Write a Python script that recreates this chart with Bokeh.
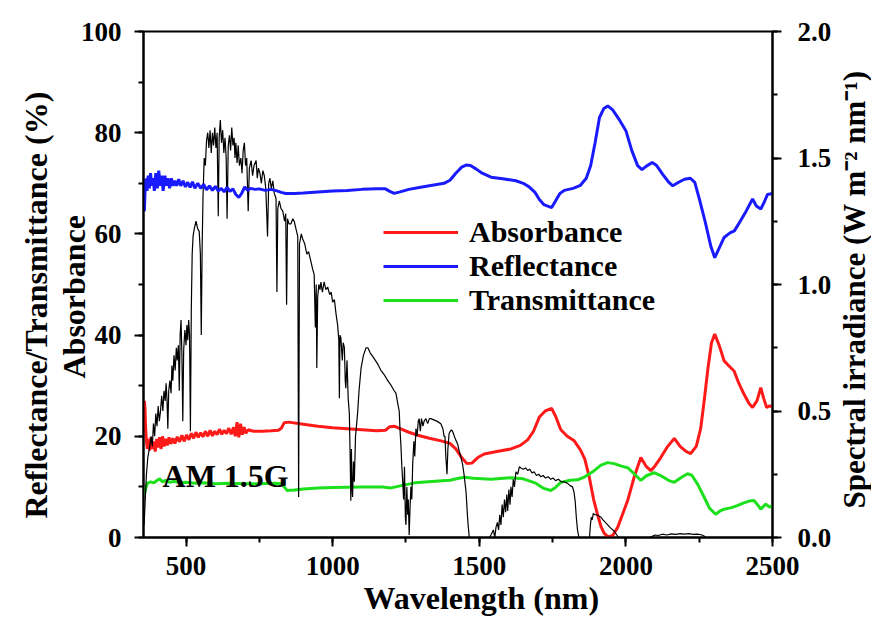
import math
from bokeh.plotting import figure
from bokeh.layouts import row
from bokeh.models import (Range1d, LinearAxis, SingleIntervalTicker, Legend, LegendItem,
                          Label, Title, NumeralTickFormatter)
from bokeh.embed import file_html
from bokeh.resources import INLINE

FONT = "Liberation Serif"

# ---------------- data ----------------
refl_wl = [357, 358, 360, 363, 367, 371, 375, 379, 383, 388, 392, 397, 402, 407, 412, 417, 422,
           428, 433, 438, 444, 450, 456, 462, 468, 475, 482, 490, 498, 506, 514, 522, 530, 540,
           550, 560, 570, 580, 590, 600, 610, 620, 630, 640, 650, 660, 670, 680, 690, 700, 710,
           720, 735, 750, 770, 790, 810, 825, 840, 870, 900, 950, 1000, 1050, 1100, 1150, 1180,
           1195, 1210, 1230, 1260, 1300, 1340, 1380, 1400, 1420, 1440, 1455, 1470, 1490, 1510,
           1540, 1580, 1625, 1650, 1670, 1690, 1705, 1720, 1747, 1760, 1775, 1790, 1820, 1845,
           1865, 1880, 1895, 1910, 1925, 1938, 1955, 1975, 2000, 2020, 2040, 2055, 2070, 2090,
           2105, 2125, 2145, 2160, 2180, 2200, 2220, 2235, 2250, 2270, 2290, 2303, 2315, 2335,
           2355, 2370, 2390, 2410, 2432, 2445, 2460, 2472, 2483, 2500]
refl_val = [70.0, 64.5, 68.0, 71.0, 68.5, 71.5, 69.0, 72.0, 69.5, 71.0, 68.5, 72.0, 69.0, 72.5,
            69.5, 71.5, 68.5, 71.5, 69.5, 71.0, 69.0, 71.0, 69.5, 70.5, 69.5, 70.8, 69.5, 70.5,
            69.3, 70.2, 69.2, 70.3, 69.0, 70.0, 69.0, 69.8, 68.7, 69.5, 68.6, 69.4, 68.5, 69.0,
            68.3, 69.2, 68.4, 68.9, 67.8, 67.2, 68.0, 69.3, 68.6, 69.0, 68.8, 68.9, 68.6, 68.8,
            68.5, 68.2, 68.0, 68.0, 68.1, 68.3, 68.5, 68.6, 68.8, 68.9, 68.9, 68.4, 68.0, 68.3,
            68.8, 69.2, 69.6, 70.0, 70.6, 72.0, 73.2, 73.6, 73.5, 72.8, 72.0, 71.2, 70.9, 70.5,
            70.0, 69.3, 68.2, 66.8, 65.8, 65.2, 66.5, 68.0, 68.6, 69.0, 69.6, 71.0, 73.5, 78.0,
            83.0, 84.8, 85.3, 84.5, 82.8, 80.4, 76.5, 73.5, 72.7, 73.4, 74.1, 73.5, 71.8, 70.3,
            69.5, 70.2, 70.8, 71.0, 70.2, 67.0, 62.5, 57.5, 55.3, 56.8, 59.3, 60.2, 60.6, 62.5,
            64.5, 66.9, 65.5, 64.9, 66.3, 67.8, 68.0]

abs_wl = [357, 358, 360, 362, 365, 368, 372, 376, 380, 385, 390, 395, 400, 405, 410, 415, 420,
          425, 430, 436, 442, 448, 455, 462, 470, 478, 486, 494, 502, 510, 518, 526, 534, 542,
          550, 558, 566, 574, 582, 590, 598, 606, 614, 622, 630, 638, 646, 654, 662, 668, 674,
          680, 686, 692, 698, 704, 712, 730, 760, 790, 815, 825, 835, 850, 900, 950, 1000, 1050,
          1100, 1150, 1180, 1195, 1210, 1230, 1260, 1290, 1330, 1370, 1400, 1420, 1440, 1458,
          1475, 1495, 1517, 1560, 1608, 1640, 1665, 1685, 1705, 1725, 1747, 1760, 1778, 1800,
          1824, 1845, 1860, 1875, 1890, 1903, 1915, 1926, 1940, 1955, 1972, 1990, 2006, 2028,
          2051, 2070, 2085, 2100, 2119, 2140, 2165, 2185, 2205, 2221, 2240, 2255, 2267, 2280,
          2292, 2303, 2318, 2335, 2350, 2369, 2385, 2403, 2420, 2432, 2447, 2460, 2470, 2480,
          2490, 2500]
abs_val = [21.0, 27.0, 25.5, 22.0, 19.0, 17.5, 19.5, 17.2, 19.8, 17.5, 19.0, 17.0, 19.5, 17.8,
           19.8, 17.5, 20.0, 18.0, 19.5, 18.2, 19.8, 18.5, 19.6, 18.6, 19.9, 18.9, 20.2, 19.0,
           20.3, 19.3, 20.6, 19.6, 20.8, 19.8, 20.7, 19.9, 21.0, 20.0, 21.2, 20.1, 21.0, 20.3,
           21.4, 20.4, 21.2, 20.5, 21.6, 20.4, 21.8, 20.0, 22.8, 19.8, 22.5, 20.3, 21.8, 20.6,
           21.3, 21.0, 21.0, 21.1, 21.2, 21.6, 22.7, 22.8, 22.4, 22.0, 21.7, 21.5, 21.3, 21.1,
           21.2, 21.9, 22.0, 21.5, 20.8, 20.2, 19.6, 19.1, 18.6, 17.5, 15.8, 14.6, 14.7, 15.8,
           16.5, 17.0, 17.5, 18.2, 19.3, 21.0, 23.8, 25.0, 25.5, 24.0, 21.3, 20.0, 19.1, 17.3,
           15.5, 12.0, 7.5, 4.6, 2.2, 0.8, 0.1, 0.4, 2.0, 4.8, 7.3, 11.9, 15.8, 14.0, 13.2, 14.2,
           15.8, 17.8, 19.6, 18.0, 17.0, 16.6, 18.0, 21.5, 27.0, 33.5, 38.5, 40.2, 38.0, 34.9,
           34.0, 32.9, 30.5, 28.3, 26.5, 25.7, 27.0, 29.6, 27.5, 25.7, 26.0, 25.8]

trans_wl = [357, 360, 365, 370, 380, 390, 400, 410, 420, 430, 445, 460, 480, 500, 530, 560, 600,
            650, 700, 750, 800, 825, 835, 845, 870, 900, 950, 1000, 1100, 1170, 1200, 1230, 1280,
            1350, 1400, 1430, 1450, 1480, 1540, 1608, 1650, 1690, 1720, 1744, 1760, 1778, 1810,
            1835, 1860, 1892, 1915, 1938, 1960, 1985, 2006, 2030, 2051, 2070, 2096, 2120, 2145,
            2165, 2190, 2210, 2225, 2245, 2265, 2285, 2306, 2320, 2335, 2360, 2380, 2400, 2420,
            2437, 2450, 2460, 2470, 2477, 2490, 2500]
trans_val = [8.5, 9.0, 10.2, 10.8, 11.0, 10.8, 11.2, 11.6, 11.0, 11.3, 10.9, 11.1, 10.8, 10.9,
             10.7, 10.8, 10.6, 10.7, 10.6, 10.6, 10.7, 10.6, 10.0, 9.3, 9.4, 9.6, 9.8, 9.9, 10.0,
             10.0, 9.8, 10.2, 10.8, 11.1, 11.3, 11.7, 11.9, 11.7, 11.5, 11.8, 11.6, 10.8, 9.7, 9.3,
             9.9, 10.9, 11.3, 11.4, 12.0, 13.2, 14.3, 14.8, 14.6, 14.1, 13.8, 12.5, 11.3, 12.2,
             12.8, 12.2, 11.3, 10.9, 11.9, 12.6, 12.3, 10.5, 8.2, 5.8, 4.6, 5.2, 5.6, 5.9, 6.3,
             6.8, 7.2, 7.3, 6.4, 5.6, 6.2, 6.6, 6.0, 6.3]

am_wl = [357, 361, 365, 370, 375, 381, 385, 389, 393, 397, 401, 405, 409, 413, 417, 421, 425,
         429, 432, 435, 438, 441, 445, 449, 452, 455, 459, 463, 467, 470, 474, 477, 480, 483,
         486, 489, 492, 496, 500, 503, 506, 509, 512, 515, 518, 521, 524, 528, 534, 540, 545,
         549, 552, 555, 558, 562, 566, 570, 574, 578, 582, 586, 590, 594, 598, 602, 606, 610,
         613, 617, 621, 625, 629, 633, 637, 640, 644, 648, 652, 656, 660, 664, 667, 670, 674,
         678, 682, 687, 691, 695, 699, 703, 707, 712, 716, 722, 727, 732, 739, 743, 747, 752,
         757, 762, 767, 772, 778, 782, 786, 791, 796, 801, 807, 810, 813, 818, 824, 830, 836,
         840, 843, 846, 851, 858, 864, 869, 875, 881, 884, 887, 893, 898, 905, 912, 918, 926,
         932, 937, 941, 944, 946, 949, 953, 957, 960, 965, 971, 977, 983, 990, 995, 1000, 1006,
         1012, 1017, 1021, 1023, 1025, 1028, 1033, 1036, 1040, 1043, 1045, 1049, 1053, 1057,
         1060, 1062, 1064, 1066, 1068, 1071, 1074, 1078, 1082, 1085, 1090, 1097, 1105, 1114,
         1120, 1128, 1140, 1154, 1165, 1175, 1188, 1200, 1210, 1216, 1222, 1227, 1230, 1233,
         1236, 1239, 1242, 1245, 1248, 1250, 1253, 1256, 1258, 1261, 1264, 1267, 1270, 1273,
         1277, 1280, 1284, 1288, 1292, 1295, 1299, 1303, 1308, 1312, 1318, 1324, 1330, 1335,
         1345, 1355, 1362, 1369, 1376, 1380, 1383, 1386, 1390, 1393, 1397, 1401, 1405, 1409,
         1415, 1420, 1426, 1432, 1437, 1443, 1448, 1452, 1455, 1459, 1462, 1466, 1534, 1540,
         1548, 1553, 1557, 1562, 1566, 1570, 1574, 1578, 1582, 1586, 1590, 1594, 1597, 1601,
         1605, 1608, 1612, 1616, 1620, 1625, 1631, 1637, 1642, 1650, 1658, 1665, 1672, 1680,
         1687, 1695, 1703, 1710, 1718, 1726, 1735, 1744, 1752, 1760, 1770, 1780, 1790, 1800,
         1810, 1818, 1823, 1827, 1831, 1835, 1840, 1876, 1879, 1882, 1885, 1889, 1893, 1900,
         1908, 1915, 1922, 1930, 1938, 1946, 1953, 1960, 1968, 1975, 2080, 2090, 2100, 2110,
         2125, 2140, 2155, 2170, 2185, 2200, 2215, 2230, 2245, 2260, 2268, 2272, 2500]
am_val = [0.05, 0.15, 0.25, 0.32, 0.35, 0.40, 0.36, 0.45, 0.40, 0.49, 0.44, 0.52, 0.46, 0.50,
          0.56, 0.50, 0.58, 0.54, 0.61, 0.55, 0.43, 0.58, 0.62, 0.57, 0.68, 0.62, 0.72, 0.66,
          0.75, 0.70, 0.76, 0.58, 0.80, 0.86, 0.72, 0.46, 0.74, 0.82, 0.76, 0.84, 0.78, 0.86,
          0.80, 0.42, 0.90, 1.12, 1.19, 1.22, 1.25, 1.22, 1.21, 1.12, 0.80, 1.15, 1.35, 1.50,
          1.47, 1.57, 1.60, 1.54, 1.61, 1.52, 1.60, 1.55, 1.62, 1.54, 1.60, 1.27, 1.58, 1.65,
          1.56, 1.61, 1.52, 1.58, 1.50, 1.26, 1.55, 1.59, 1.53, 1.62, 1.55, 1.58, 1.50, 1.56,
          1.48, 1.55, 1.47, 1.50, 1.44, 1.53, 1.56, 1.47, 1.50, 1.29, 1.46, 1.49, 1.43, 1.47,
          1.49, 1.42, 1.46, 1.44, 1.40, 1.45, 1.43, 1.38, 1.19, 1.40, 1.42, 1.38, 1.41, 1.36,
          1.34, 0.97, 1.30, 1.33, 1.30, 1.29, 1.25, 1.28, 0.92, 1.26, 1.24, 1.24, 1.26, 1.25,
          1.22, 1.19, 0.16, 1.16, 1.20, 1.18, 1.16, 1.12, 1.13, 1.09, 1.06, 1.04, 0.83, 1.00,
          0.67, 0.95, 1.00, 0.98, 1.01, 0.97, 1.01, 0.98, 0.99, 0.96, 0.97, 0.93, 0.94, 0.88,
          0.84, 0.78, 0.55, 0.80, 0.79, 0.70, 0.77, 0.75, 0.62, 0.59, 0.70, 0.55, 0.49, 0.30,
          0.145, 0.35, 0.20, 0.16, 0.30, 0.22, 0.40, 0.45, 0.49, 0.58, 0.67, 0.72, 0.75, 0.75,
          0.73, 0.71, 0.685, 0.66, 0.645, 0.62, 0.60, 0.58, 0.57, 0.53, 0.50, 0.42, 0.36, 0.28,
          0.22, 0.15, 0.28, 0.08, 0.05, 0.20, 0.09, 0.15, 0.01, 0.12, 0.20, 0.15, 0.29, 0.38,
          0.32, 0.43, 0.40, 0.46, 0.47, 0.42, 0.47, 0.44, 0.46, 0.47, 0.45, 0.47, 0.47, 0.465,
          0.46, 0.455, 0.45, 0.43, 0.40, 0.40, 0.32, 0.25, 0.35, 0.41, 0.42, 0.425, 0.42, 0.40,
          0.385, 0.37, 0.34, 0.32, 0.29, 0.25, 0.21, 0.18, 0.10, 0.05, 0.0, 0.0, 0.01, 0.03,
          0.0, 0.04, 0.06, 0.03, 0.09, 0.05, 0.13, 0.08, 0.15, 0.10, 0.17, 0.105, 0.19, 0.13,
          0.20, 0.16, 0.23, 0.20, 0.26, 0.25, 0.28, 0.275, 0.27, 0.275, 0.265, 0.27, 0.255,
          0.26, 0.245, 0.25, 0.24, 0.245, 0.235, 0.24, 0.23, 0.235, 0.225, 0.23, 0.22, 0.22,
          0.215, 0.205, 0.20, 0.18, 0.145, 0.08, 0.03, 0.0, 0.0, 0.05, 0.08, 0.07, 0.095, 0.09,
          0.09, 0.085, 0.08, 0.07, 0.06, 0.05, 0.04, 0.032, 0.026, 0.012, 0.0, 0.0, 0.005, 0.01,
          0.008, 0.013, 0.01, 0.014, 0.012, 0.015, 0.013, 0.015, 0.012, 0.013, 0.01, 0.005, 0.0,
          0.0]

x_major_ticks = 500          # 500, 1000, ... 2500
left_major_ticks = 20        # 0 ... 100
right_major_ticks = 0.5      # 0.0 ... 2.0

series_names = ["Absorbance", "Reflectance", "Transmittance"]
series_colors = ["#ff1a1a", "#1a1aff", "#1de01d"]

# ---------------- main figure ----------------
p = figure(width=834, height=617, x_range=Range1d(355, 2500), y_range=Range1d(0, 100),
           output_backend="svg", toolbar_location=None,
           min_border_left=143, min_border_right=62, min_border_top=31, min_border_bottom=80)
p.extra_y_ranges = {"irr": Range1d(0, 2.0)}
p.xgrid.visible = False
p.ygrid.visible = False
p.outline_line_color = "black"
p.outline_line_width = 2
p.outline_line_alpha = 1.0
p.background_fill_color = "white"
p.border_fill_color = "white"


def style_axis(ax, fs="27px"):
    ax.axis_line_width = 2
    ax.axis_line_color = "black"
    ax.major_tick_line_width = 2
    ax.minor_tick_line_width = 2
    ax.major_tick_in = 0
    ax.major_tick_out = 9
    ax.minor_tick_in = 0
    ax.minor_tick_out = 5
    ax.major_label_text_font = FONT
    ax.major_label_text_font_style = "bold"
    ax.major_label_text_font_size = fs
    ax.major_label_text_color = "black"


xa = p.xaxis[0]
xa.ticker = SingleIntervalTicker(interval=x_major_ticks, num_minor_ticks=2)
style_axis(xa)
xa.major_label_standoff = 10

ya = p.yaxis[0]
ya.ticker = SingleIntervalTicker(interval=left_major_ticks, num_minor_ticks=2)
style_axis(ya)
ya.major_label_standoff = 13

ra = LinearAxis(y_range_name="irr",
                ticker=SingleIntervalTicker(interval=right_major_ticks, num_minor_ticks=2),
                formatter=NumeralTickFormatter(format="0.0"))
style_axis(ra)
ra.major_label_standoff = 16
p.add_layout(ra, "right")

t_x = Title(text="Wavelength (nm)", align="left", offset=220, standoff=0,
            text_font=FONT, text_font_style="bold", text_font_size="32px", text_color="black")
p.add_layout(t_x, "below")

t_abs = Title(text="Absorbance", align="left", offset=159, standoff=-28,
              text_font=FONT, text_font_style="bold", text_font_size="32px", text_color="black")
p.add_layout(t_abs, "left")
t_rt = Title(text="Reflectance/Transmittance (%)", align="left", offset=19, standoff=28,
             text_font=FONT, text_font_style="bold", text_font_size="32px", text_color="black")
p.add_layout(t_rt, "left")

# ---------------- glyphs ----------------
r_abs = p.line(abs_wl, abs_val, line_color=series_colors[0], line_width=3)
r_trans = p.line(trans_wl, trans_val, line_color=series_colors[2], line_width=3)
r_am = p.line(am_wl, am_val, line_color="black", line_width=1.2, y_range_name="irr")
r_refl = p.line(refl_wl, refl_val, line_color=series_colors[1], line_width=3)

legend = Legend(items=[LegendItem(label=series_names[0], renderers=[r_abs]),
                       LegendItem(label=series_names[1], renderers=[r_refl]),
                       LegendItem(label=series_names[2], renderers=[r_trans])],
                location=(240, 220), orientation="vertical",
                glyph_width=75, glyph_height=30, label_standoff=11, spacing=0,
                padding=0, margin=0, border_line_color=None, background_fill_alpha=0,
                label_text_font=FONT, label_text_font_style="bold",
                label_text_font_size="30px", label_text_color="black")
p.add_layout(legend, "center")

am_label = Label(x=420, y=12.2, text="AM 1.5G", text_font=FONT, text_font_style="bold",
                 text_font_size="32px", text_color="black", text_baseline="alphabetic")
p.add_layout(am_label)

# ---------------- narrow strip carrying the right-hand axis title ----------------
p2 = figure(width=37, height=617, x_axis_type=None, y_axis_type=None,
            output_backend="svg", toolbar_location=None,
            min_border_left=0, min_border_right=0, min_border_top=31, min_border_bottom=80)
p2.outline_line_color = None
p2.background_fill_color = "white"
p2.border_fill_color = "white"
t_right = Title(text="Spectral irradiance (W m\u207b\u00b2 nm\u207b\u00b9)", align="left",
                offset=29, standoff=0, text_font=FONT, text_font_style="bold",
                text_font_size="31px", text_color="black")
p2.add_layout(t_right, "left")

layout = row(p, p2, spacing=0)
open("out.html", "w").write(file_html(layout, INLINE))
